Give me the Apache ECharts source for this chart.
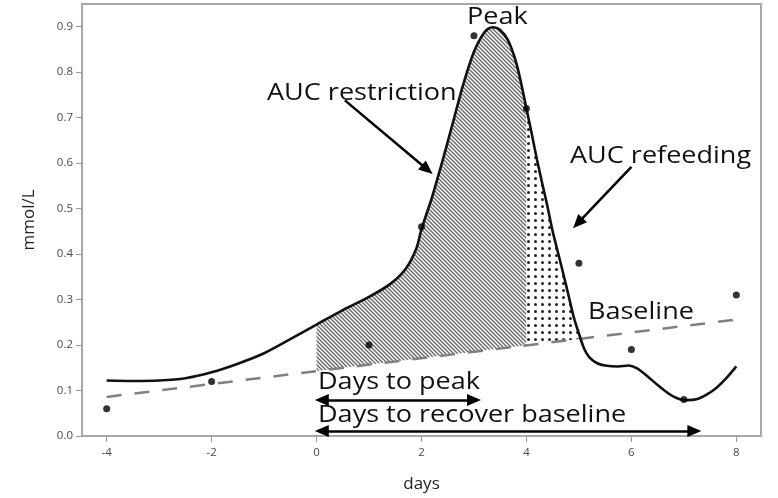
<!DOCTYPE html>
<html>
<head>
<meta charset="utf-8">
<script src="https://cdn.jsdelivr.net/npm/echarts@6.0.0/dist/echarts.min.js"></script>
<style>
  html, body { margin: 0; padding: 0; background: #fff; }
  #chart { width: 778px; height: 498px; }
</style>
</head>
<body>
<div id="chart"></div>
<script>
// observed values (dots)
const obsDays = [-4, -2, 1, 2, 3, 4, 5, 6, 7, 8]
const obsValues = [0.06, 0.12, 0.2, 0.46, 0.88, 0.72, 0.38, 0.19, 0.08, 0.31]

// fitted curve
const fitDays = [-4, -3.5, -3, -2.5, -2, -1.5, -1, -0.5, 0, 0.5, 1, 1.4, 1.7, 1.9, 2, 2.2, 2.4, 2.6, 2.8, 3, 3.2, 3.35, 3.5, 3.65, 3.8, 3.9, 4, 4.1, 4.2, 4.3, 4.4, 4.5, 4.6, 4.7, 4.8, 4.9, 5, 5.1, 5.2, 5.35, 5.5, 5.75, 5.95, 6.1, 6.3, 6.5, 6.7, 6.85, 7, 7.2, 7.4, 7.6, 7.8, 8]
const fitValues = [0.122, 0.121, 0.122, 0.127, 0.140, 0.159, 0.182, 0.213, 0.245, 0.277, 0.306, 0.334, 0.368, 0.412, 0.455, 0.525, 0.605, 0.690, 0.775, 0.845, 0.888, 0.899, 0.893, 0.870, 0.823, 0.775, 0.720, 0.665, 0.608, 0.556, 0.505, 0.450, 0.404, 0.358, 0.310, 0.262, 0.225, 0.192, 0.173, 0.160, 0.155, 0.153, 0.155, 0.149, 0.132, 0.112, 0.094, 0.084, 0.079, 0.080, 0.089, 0.104, 0.126, 0.153]

// dashed baseline
const baseDays = [-4, 8]
const baseValues = [0.086, 0.256]

// restriction / refeeding split
const restrictStart = 0
const refeedStart = 4

const xTicks = [-4, -2, 0, 2, 4, 6, 8]
const yTicks = [0, 0.1, 0.2, 0.3, 0.4, 0.5, 0.6, 0.7, 0.8, 0.9]

const FONT = '"Open Sans", "Noto Sans", sans-serif'

function baseAt(d) {
  const t = (d - baseDays[0]) / (baseDays[1] - baseDays[0])
  return baseValues[0] + t * (baseValues[1] - baseValues[0])
}

// restriction area: curve from 0 to 4, back along the baseline
function restrictPoly() {
  const pts = []
  fitDays.forEach((d, i) => { if (d >= restrictStart && d <= refeedStart) pts.push([d, fitValues[i]]) })
  pts.push([refeedStart, baseAt(refeedStart)])
  pts.push([restrictStart, baseAt(restrictStart)])
  return pts
}

// refeeding area: curve from 4 until it drops through the baseline
function refeedPoly() {
  const pts = []
  for (let i = 0; i < fitDays.length; i++) {
    const d = fitDays[i]
    if (d < refeedStart) continue
    const v = fitValues[i]
    if (v < baseAt(d)) {
      const d0 = fitDays[i - 1], v0 = fitValues[i - 1]
      const g0 = v0 - baseAt(d0), g1 = v - baseAt(d)
      const dc = d0 + (d - d0) * g0 / (g0 - g1)
      pts.push([dc, baseAt(dc)])
      break
    }
    pts.push([d, v])
  }
  pts.push([refeedStart, baseAt(refeedStart)])
  return pts
}

function makeHatch() {
  const s = 4
  const c = document.createElement('canvas')
  c.width = s; c.height = s
  const g = c.getContext('2d')
  g.fillStyle = '#fff'
  g.fillRect(0, 0, s, s)
  g.strokeStyle = '#6a6a6a'
  g.lineWidth = 1.4
  for (let k = -1; k <= 1; k++) {
    g.beginPath()
    g.moveTo(k * s - 1, -1)
    g.lineTo(k * s + s + 1, s + 1)
    g.stroke()
  }
  return c
}

function makeDots() {
  const s = 7
  const c = document.createElement('canvas')
  c.width = s; c.height = s
  const g = c.getContext('2d')
  g.fillStyle = '#fff'
  g.fillRect(0, 0, s, s)
  g.fillStyle = '#222'
  g.beginPath()
  g.arc(3.5, 3.5, 1.5, 0, Math.PI * 2)
  g.fill()
  return c
}

const hatch = makeHatch()
const dots = makeDots()
const areas = [restrictPoly(), refeedPoly()]

const chart = echarts.init(document.getElementById('chart'))

const textStyle = (text, x, y) => ({
  type: 'text', x: x, y: y, scaleX: 1.15, z: 100,
  style: { text: text, font: '23.5px ' + FONT, fill: '#111', textVerticalAlign: 'middle' }
})

chart.setOption({
  animation: false,
  backgroundColor: '#fff',
  grid: {
    left: 82, right: 17, top: 4, bottom: 62,
    show: true, borderColor: '#a8a8a8', borderWidth: 2,
    containLabel: false, outerBoundsMode: 'none'
  },
  xAxis: {
    type: 'value', min: -4.47, max: 8.47,
    name: 'days', nameLocation: 'middle', nameGap: 40,
    nameTextStyle: { fontSize: 17, color: '#222', fontFamily: FONT },
    axisLine: { show: true, onZero: false, lineStyle: { color: '#a8a8a8', width: 2 } },
    axisTick: { show: true, customValues: xTicks, length: 6, lineStyle: { color: '#999' } },
    axisLabel: { customValues: xTicks, color: '#4a4a4a', fontSize: 11.5, fontFamily: FONT, margin: 11 },
    splitLine: { show: false }
  },
  yAxis: {
    type: 'value', min: 0, max: 0.95,
    name: 'mmol/L', nameLocation: 'middle', nameGap: 44,
    nameTextStyle: { fontSize: 17, color: '#222', fontFamily: FONT },
    axisLine: { show: true, onZero: false, lineStyle: { color: '#a8a8a8', width: 2 } },
    axisTick: { show: true, customValues: yTicks, length: 6, lineStyle: { color: '#999' } },
    axisLabel: { customValues: yTicks, color: '#4a4a4a', fontSize: 11.5, fontFamily: FONT, margin: 9,
      formatter: v => v.toFixed(1) },
    splitLine: { show: false }
  },
  graphic: [
    textStyle('Peak', 467, 17),
    textStyle('AUC restriction', 267, 93),
    textStyle('AUC refeeding', 570, 156),
    textStyle('Baseline', 588, 312),
    textStyle('Days to peak', 318, 382),
    textStyle('Days to recover baseline', 318, 415)
  ],
  series: [
    {
      type: 'custom',
      coordinateSystem: 'cartesian2d',
      clip: true,
      z: 1,
      data: [[restrictStart, 0], [refeedStart, 0]],
      renderItem: (params, api) => {
        const pts = areas[params.dataIndex].map(p => api.coord(p))
        return {
          type: 'polygon',
          shape: { points: pts },
          style: { fill: { image: params.dataIndex === 0 ? hatch : dots, repeat: 'repeat' }, stroke: null }
        }
      }
    },
    {
      type: 'line',
      name: 'baseline',
      z: 2,
      data: baseDays.map((d, i) => [d, baseValues[i]]),
      showSymbol: false,
      lineStyle: { color: '#808080', width: 2.5, type: [15, 13] }
    },
    {
      type: 'line',
      name: 'fit',
      z: 3,
      data: fitDays.map((d, i) => [d, fitValues[i]]),
      smooth: 0.3,
      showSymbol: false,
      lineStyle: { color: '#111', width: 2.6 }
    },
    {
      type: 'scatter',
      z: 4,
      data: obsDays.map((d, i) => [d, obsValues[i]]),
      symbolSize: 7,
      itemStyle: { color: '#000' }
    },
    {
      type: 'line',
      name: 'arrows',
      z: 5,
      data: [],
      markLine: {
        silent: true,
        animation: false,
        symbolSize: [12, 14],
        label: { show: false },
        lineStyle: { color: '#000', width: 2.5, type: 'solid' },
        data: [
          [{ coord: [0.54, 0.738], symbol: 'none' }, { coord: [2.11, 0.586], symbol: 'triangle' }],
          [{ coord: [6.0, 0.592], symbol: 'none' }, { coord: [4.98, 0.468], symbol: 'triangle' }],
          [{ coord: [0.1, 0.079], symbol: 'triangle' }, { coord: [3.0, 0.079], symbol: 'triangle' }],
          [{ coord: [0.1, 0.011], symbol: 'triangle' }, { coord: [7.2, 0.011], symbol: 'triangle' }]
        ]
      }
    }
  ]
})
</script>
</body>
</html>
